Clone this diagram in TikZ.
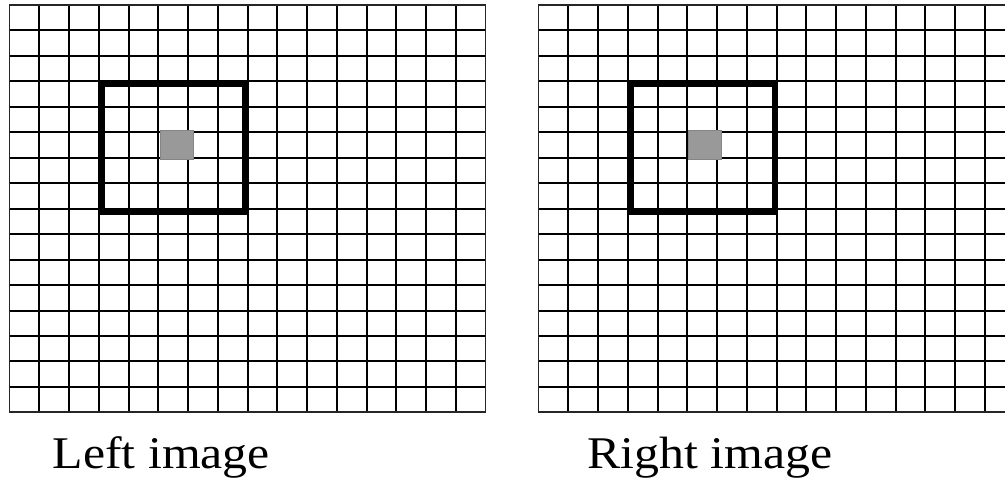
\documentclass[tikz,border=0pt]{standalone}
\usepackage{fontspec}
\setmainfont{Liberation Serif}
\definecolor{cellgray}{HTML}{999999}
\definecolor{cellborder}{HTML}{858585}
\tikzset{
  gridline/.style={line width=2pt, black},
  borderline/.style={line width=1.7pt, black!85},
  focusbox/.style={line width=4.5pt, black},
  pixelcell/.style={fill=cellgray, draw=cellborder, line width=1pt},
  caption/.style={font=\fontsize{45.3}{50}\selectfont, inner sep=0pt, anchor=base west, xscale=1.1}
}
\begin{document}
\begin{tikzpicture}[x=1pt,y=-1pt]
\useasboundingbox (0,0) rectangle (1005,482);
% left grid
\foreach \k in {1,...,15} {
  \draw[gridline] ({9.5+\k*29.75},5) -- ({9.5+\k*29.75},412.3);
  \draw[gridline] (9.5,{5+\k*25.46}) -- (485.5,{5+\k*25.46});
}
\draw[borderline] (9.5,5) rectangle (485.5,412.3);
% right grid (cut off by the right edge)
\foreach \k in {1,...,15} {
  \draw[gridline] ({538.5+\k*29.75},5) -- ({538.5+\k*29.75},412.3);
  \draw[gridline] (538.5,{5+\k*25.46}) -- (1005,{5+\k*25.46});
}
\draw[borderline] (1005,5) -- (538.5,5) -- (538.5,412.3) -- (1005,412.3);
% left focus
\draw[pixelcell] (160.7,130.7) rectangle (193.3,159.3);
\draw[focusbox] (102.5,84.7) rectangle (244.7,212.5);
% right focus
\draw[pixelcell] (688.3,130.7) rectangle (721,159.3);
\draw[focusbox] (631.7,84.7) rectangle (774,212.5);
% captions
\node[caption] (leftlabel) at (52.5,468.3) {Left image};
\node[caption] (rightlabel) at (587,468.3) {Right image};
\end{tikzpicture}
\end{document}
